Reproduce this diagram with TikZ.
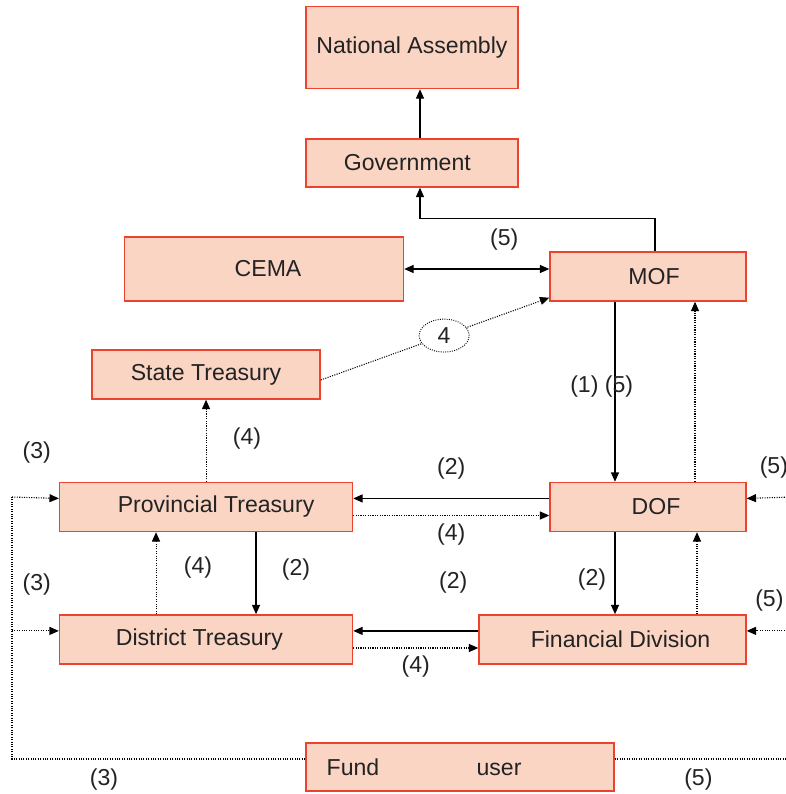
\documentclass[tikz,border=0pt]{standalone}
\usepackage{fontspec}
\setsansfont{Liberation Sans}
\usetikzlibrary{shapes.geometric, arrows.meta, positioning}
\definecolor{boxfill}{RGB}{250,213,196}
\definecolor{boxline}{RGB}{238,66,48}
\definecolor{txtgray}{RGB}{35,35,35}

\begin{document}
\begin{tikzpicture}[
		% 全局设置
		x=0.75pt, y=-0.75pt,
		font=\fontsize{17.3}{20}\selectfont\sffamily,
		% 样式定义
		unit/.style={rectangle, draw=boxline, fill=boxfill, line width=1.1pt, minimum height=36.75pt, align=center, text=txtgray},
		arrow/.style={-{Triangle[length=7pt,width=6pt]}, line width=0.9pt},
		twoway/.style={{Triangle[length=7pt,width=6pt]}-{Triangle[length=7pt,width=6pt]}, line width=0.9pt},
		report/.style={-{Triangle[length=7pt,width=6pt]}, densely dotted, line width=0.8pt},
		bus/.style={densely dotted, line width=0.8pt},
		tag/.style={text=txtgray, inner sep=0pt},
		ring/.style={ellipse, draw, densely dotted, fill=white, text=txtgray, minimum width=37.5pt, minimum height=24.75pt, inner sep=0pt, line width=0.7pt}
		]
		
		\path[use as bounding box, clip] (0,0) rectangle (786,794);
		
		% ==========================================
		% Central level
		% ==========================================
		
		% 1. MOF
		\node[unit, minimum width=147pt] (mof) at (648,276.5) {\hspace*{9pt}MOF};
		
		% 2. CEMA
		\node[unit, left=108.75pt of mof.south west, anchor=south east, minimum width=209.25pt, minimum height=48pt] (cema) {\hspace*{6pt}CEMA};
		
		% 3. Government / National Assembly
		\node[unit, minimum width=159pt, minimum height=36pt] (gov) at (412,163) {Government\hspace*{7pt}};
		\node[unit, above=36.75pt of gov, minimum width=159pt, minimum height=61.5pt] (na) {National Assembly};
		
		% ==========================================
		% Provincial / district level
		% ==========================================
		
		\node[unit, below=135pt of mof, minimum width=147pt] (dof) {\hspace*{12pt}DOF};
		\node[unit, below=61.5pt of dof.south east, anchor=north east, minimum width=200.25pt] (fd) {\hspace*{12pt}Financial Division};
		
		\node[unit, left=147pt of dof, minimum width=219.75pt] (prov) {\hspace*{15pt}Provincial Treasury};
		\node[unit, below=61.5pt of prov, minimum width=219.75pt] (dist) {District Treasury\hspace*{10pt}};
		\node[unit, above=61.5pt of prov, minimum width=171pt] (state) {State Treasury};
		
		% Fund user (文字偏左)
		\node[unit, minimum width=231pt, minimum height=36pt, text width=200pt, align=left, inner xsep=15pt] (fund) at (460,767) {Fund\hspace{73pt}user};
		
		% 连接点
		\coordinate (lbus) at (12,497);
		\coordinate (rbus) at (792,497);
		\coordinate (distin) at ([yshift=6.4pt]dist.west);
		\coordinate (fdin) at ([yshift=6.4pt]fd.east);
		
		% ==========================================
		% Solid connectors
		% ==========================================
		\draw[arrow] ([xshift=6pt]gov.north) -- ([xshift=6pt]na.south);
		\draw[arrow] ([xshift=5.25pt]mof.north) -- ++(0,24.75pt) -| ([xshift=6pt]gov.south);
		\draw[twoway] (cema.east) -- (cema.east -| mof.west)
			node[tag, pos=0.69, yshift=21.75pt] (l5a) {(5)};
		\draw[arrow] ([xshift=-24.75pt]mof.south) -- ([xshift=-24.75pt]dof.north)
			node[tag, pos=0.47, xshift=-10pt] (l15) {(1) (5)};
		\draw[arrow] ([yshift=6.4pt]dof.west) -- ([yshift=6.4pt]prov.east)
			node[tag, midway, yshift=22.5pt] (l2a) {(2)};
		\draw[arrow] ([xshift=37.5pt]prov.south) -- ([xshift=37.5pt]dist.north)
			node[tag, midway, xshift=30pt, yshift=3pt] (l2b) {(2)};
		\draw[arrow] ([xshift=-24.75pt]dof.south) -- ([xshift=-24.75pt]dof.south |- fd.north)
			node[tag, pos=0.58, xshift=-17.25pt] (l2c) {(2)};
		\draw[arrow] ([yshift=6.4pt]fd.west) -- ([yshift=6.4pt]dist.east)
			node[tag, pos=0.2, yshift=36pt] (l2d) {(2)};
		
		% ==========================================
		% Dotted connectors
		% ==========================================
		\draw[report] ([yshift=-4.1pt]state.east) -- ([yshift=3pt]mof.south west)
			node[ring, pos=0.54] (four) {4};
		\draw[report] ([xshift=35.25pt]dof.north) -- ([xshift=35.25pt]mof.south);
		\draw[report] ([yshift=-6.4pt]prov.east) -- ([yshift=-6.4pt]dof.west)
			node[tag, midway, yshift=-14.25pt] (l4a) {(4)};
		\draw[report] (prov.north) -- (state.south)
			node[tag, midway, xshift=30.75pt, yshift=2pt] (l4b) {(4)};
		\draw[report] ([xshift=-37.5pt]dist.north) -- ([xshift=-37.5pt]prov.south)
			node[tag, midway, xshift=31.5pt, yshift=4pt] (l4c) {(4)};
		\draw[report] ([xshift=36.75pt]dof.south |- fd.north) -- ([xshift=36.75pt]dof.south);
		\draw[report] ([yshift=-6.4pt]dist.east) -- ([yshift=-6.4pt]fd.west)
			node[tag, midway, yshift=-14.25pt] (l4d) {(4)};
		
		% 左侧 (3)
		\draw[bus] ([yshift=6pt]fund.west) -| (lbus)
			node[tag, pos=0.343, yshift=-15.75pt] (l3c) {(3)};
		\draw[report] (lbus) -- ([yshift=6.4pt]prov.west)
			node[tag, pos=0.53, yshift=33.75pt] (l3a) {(3)};
		\draw[report] (distin -| lbus) -- (distin)
			node[tag, pos=0.53, yshift=34.5pt] (l3b) {(3)};
		
		% 右侧 (5)
		\draw[bus] ([yshift=6pt]fund.east) -| (rbus)
			node[tag, pos=0.236, yshift=-15.75pt] (l5d) {(5)};
		\draw[report] (rbus) -- ([yshift=6.4pt]dof.east)
			node[tag, pos=0.4, yshift=22.5pt] (l5b) {(5)};
		\draw[report] (fdin -| rbus) -- (fdin)
			node[tag, pos=0.5, yshift=22.5pt] (l5c) {(5)};
		
	\end{tikzpicture}
\end{document}
